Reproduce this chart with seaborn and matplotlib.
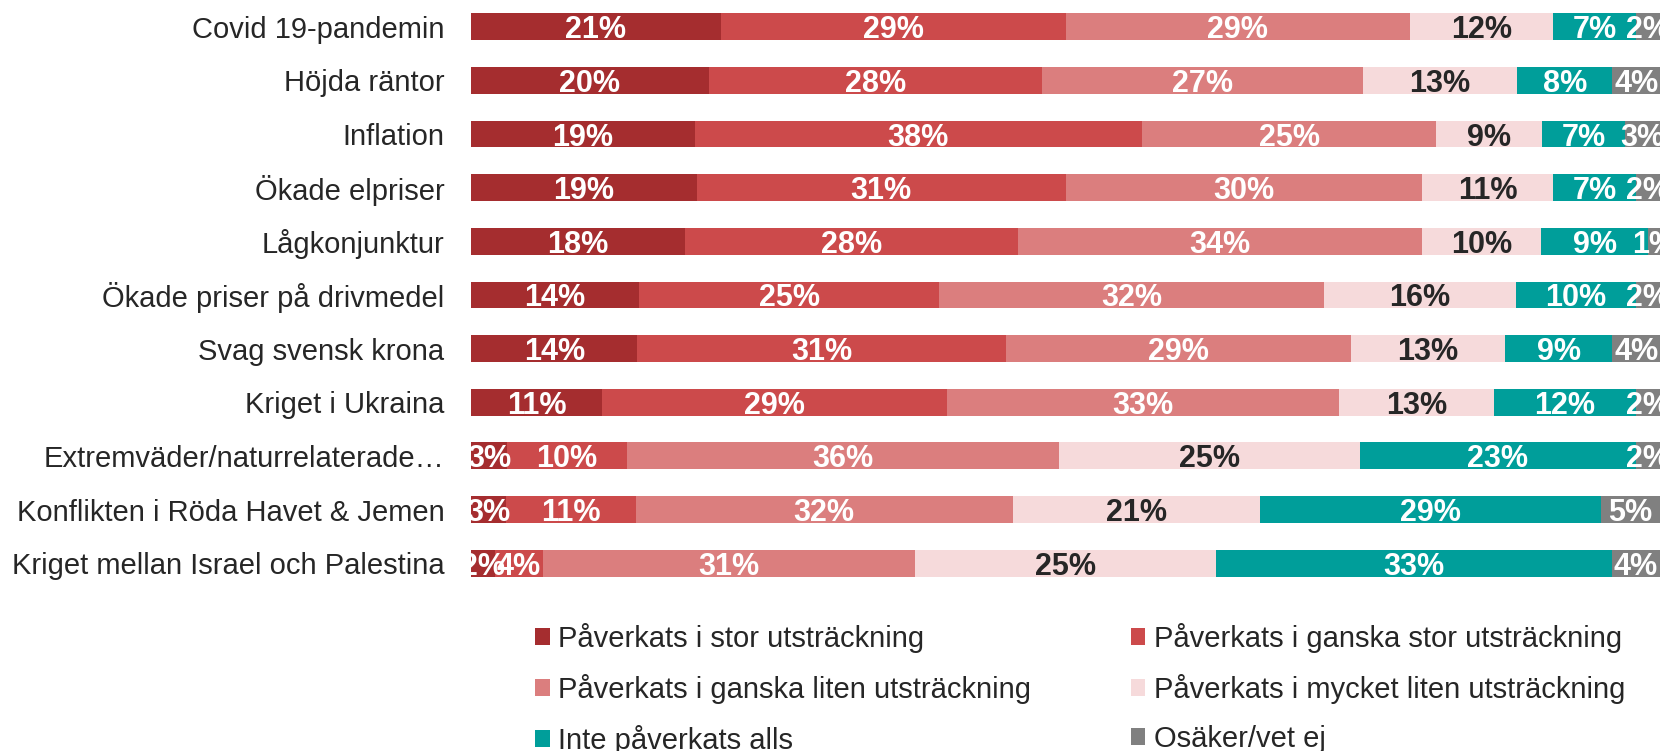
import matplotlib.pyplot as plt
import seaborn as sns
import pandas as pd
from matplotlib.patches import Patch

categories = [
    'Covid 19-pandemin',
    'Höjda räntor',
    'Inflation',
    'Ökade elpriser',
    'Lågkonjunktur',
    'Ökade priser på drivmedel',
    'Svag svensk krona',
    'Kriget i Ukraina',
    'Extremväder/naturrelaterade…',
    'Konflikten i Röda Havet & Jemen',
    'Kriget mellan Israel och Palestina',
]

stor = [21, 20, 19, 19, 18, 14, 14, 11, 3, 3, 2]
ganska_stor = [29, 28, 38, 31, 28, 25, 31, 29, 10, 11, 4]
ganska_liten = [29, 27, 25, 30, 34, 32, 29, 33, 36, 32, 31]
mycket_liten = [12, 13, 9, 11, 10, 16, 13, 13, 25, 21, 25]
inte = [7, 8, 7, 7, 9, 10, 9, 12, 23, 29, 33]
osaker = [2, 4, 3, 2, 1, 2, 4, 2, 2, 5, 4]

series_names = [
    'Påverkats i stor utsträckning',
    'Påverkats i ganska stor utsträckning',
    'Påverkats i ganska liten utsträckning',
    'Påverkats i mycket liten utsträckning',
    'Inte påverkats alls',
    'Osäker/vet ej',
]
colors = ['#A52D2F', '#CC4A4B', '#DB7E7E', '#F6DADB', '#009E9A', '#808080']
label_colors = ['white', 'white', 'white', '#262626', 'white', 'white']

df = pd.DataFrame(dict(zip(series_names, [stor, ganska_stor, ganska_liten,
                                          mycket_liten, inte, osaker])))
df['Kategori'] = categories

# 100% stacked: scale each row so the bar fills the axis
shares = df[series_names].div(df[series_names].sum(axis=1), axis=0) * 100
cum = shares.cumsum(axis=1)

sns.set_style('white')
plt.rcParams['font.family'] = ['Liberation Sans', 'DejaVu Sans']

W, H = 1660, 751
fig = plt.figure(figsize=(W / 100, H / 100), dpi=100)
ax = fig.add_axes([471 / W, 1 - 590 / H, 1 - 471 / W, 590 / H])

# draw the cumulative bars from the longest to the shortest
for name, color in reversed(list(zip(series_names, colors))):
    sns.barplot(x=cum[name], y=df['Kategori'], color=color, orient='h',
                width=0.5, saturation=1, linewidth=0, ax=ax)

# segment labels
for name, tcol in zip(series_names, label_colors):
    centers = cum[name] - shares[name] / 2
    for j, (xc, val) in enumerate(zip(centers, df[name])):
        ax.text(xc, j, f'{val}%', ha='center', va='center_baseline',
                color=tcol, fontsize=22, fontweight='bold', clip_on=False)

ax.set_xlim(0, 100)
ax.set_xlabel('')
ax.set_ylabel('')
ax.set_xticks([])
ax.tick_params(axis='y', length=0, pad=19, labelsize=21, labelcolor='#262626')
for s in ax.spines.values():
    s.set_visible(False)

# legend laid out row by row like the original
order = [0, 2, 4, 1, 3, 5]
handles = [Patch(facecolor=colors[i], edgecolor='none', label=series_names[i])
           for i in order]
fig.legend(handles=handles, ncol=2, loc='upper left',
           bbox_to_anchor=(535 / W, 1 - 623 / H), frameon=False, fontsize=21,
           handlelength=0.5, handleheight=0.5, handletextpad=0.3,
           columnspacing=3.4, labelspacing=0.72, borderpad=0,
           borderaxespad=0, labelcolor='#262626')

fig.savefig('out.png', dpi=100)
